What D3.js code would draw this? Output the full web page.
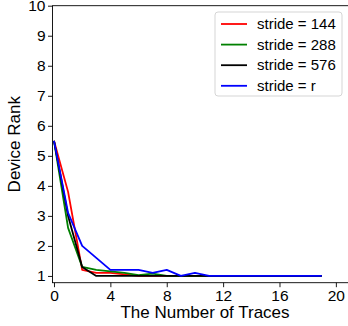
<!DOCTYPE html>
<meta charset="utf-8">
<style>
body { margin: 0; background: #fff; }
text { font-family: "Liberation Sans", Arial, sans-serif; }
</style>
<body>
<div id="graph"></div>
<script src="https://cdn.jsdelivr.net/npm/d3@7"></script>
<script>
// data
var traces = d3.range(0, 20);
var stride144 = [5.5, 3.8, 1.2, 1.1, 1.1, 1.05, 1, 1, 1, 1, 1, 1, 1, 1, 1, 1, 1, 1, 1, 1];
var stride288 = [5.5, 2.6, 1.3, 1.2, 1.15, 1.1, 1.03, 1.08, 1, 1, 1, 1, 1, 1, 1, 1, 1, 1, 1, 1];
var stride576 = [5.5, 3.0, 1.3, 1.0, 1, 1, 1, 1, 1, 1, 1, 1, 1, 1, 1, 1, 1, 1, 1, 1];
var strideR   = [5.5, 3.1, 2.0, 1.6, 1.2, 1.2, 1.2, 1.1, 1.2, 1.0, 1.1, 1, 1, 1, 1, 1, 1, 1, 1, 1];
var labels = ["stride = 144", "stride = 288", "stride = 576", "stride = r"];
var colors = ["#ff0000", "#008000", "#000000", "#0000ff"];
var xTicks = [0, 4, 8, 12, 16, 20];
var yTicks = [1, 2, 3, 4, 5, 6, 7, 8, 9, 10];

var series = [stride144, stride288, stride576, strideR];

var W = 348, H = 326;
var mLeft = 52.5, mTop = 5.7, mBottom = 282.7, mRight = 357;

var svg = d3.select("#graph").append("svg")
  .attr("width", W).attr("height", H);

var x = d3.scaleLinear().domain([-0.106, 21.5]).range([mLeft, mRight]);
var y = d3.scaleLinear().domain([0.775, 10]).range([mBottom, mTop]);

var line = d3.line()
  .x((d, i) => x(traces[i]))
  .y(d => y(d));

svg.selectAll(".series")
  .data(series)
  .enter().append("path")
  .attr("class", "series")
  .attr("d", d => line(d))
  .attr("fill", "none")
  .attr("stroke", (d, i) => colors[i])
  .attr("stroke-width", 1.8)
  .attr("stroke-linejoin", "round");

// frame
svg.append("rect")
  .attr("x", mLeft).attr("y", mTop)
  .attr("width", mRight - mLeft).attr("height", mBottom - mTop)
  .attr("fill", "none").attr("stroke", "#000").attr("stroke-width", 0.9);

var xAxis = svg.append("g")
  .attr("transform", "translate(0," + mBottom + ")")
  .call(d3.axisBottom(x).tickValues(xTicks).tickSize(4.5).tickPadding(2.5).tickFormat(d3.format("d")));
var yAxis = svg.append("g")
  .attr("transform", "translate(" + mLeft + ",0)")
  .call(d3.axisLeft(y).tickValues(yTicks).tickSize(4.5).tickPadding(2.5).tickFormat(d3.format("d")));
[xAxis, yAxis].forEach(function(g) {
  g.select(".domain").remove();
  g.selectAll("line").attr("stroke", "#000").attr("stroke-width", 0.9);
  g.selectAll("text").attr("fill", "#000")
    .style("font-size", "15.5px")
    .style("font-family", "'Liberation Sans', Arial, sans-serif");
});

svg.append("text")
  .attr("x", 205).attr("y", 318)
  .attr("text-anchor", "middle")
  .style("font-size", "17px")
  .text("The Number of Traces");

svg.append("text")
  .attr("transform", "translate(20," + (mTop + mBottom) / 2 + ") rotate(-90)")
  .attr("text-anchor", "middle")
  .style("font-size", "17px")
  .text("Device Rank");

// legend
var lg = svg.append("g");
lg.append("rect")
  .attr("x", 215).attr("y", 12)
  .attr("width", 127).attr("height", 84)
  .attr("rx", 3)
  .attr("fill", "#fff").attr("fill-opacity", 0.8)
  .attr("stroke", "#d0d0d0").attr("stroke-width", 0.9);
var items = lg.selectAll(".item")
  .data(labels)
  .enter().append("g")
  .attr("transform", (d, i) => "translate(0," + (24 + i * 20.6) + ")");
items.append("line")
  .attr("x1", 221).attr("x2", 247)
  .attr("stroke", (d, i) => colors[i])
  .attr("stroke-width", 1.8);
items.append("text")
  .attr("x", 257).attr("y", 5.2)
  .style("font-size", "15px")
  .text(d => d);
</script>
</body>
